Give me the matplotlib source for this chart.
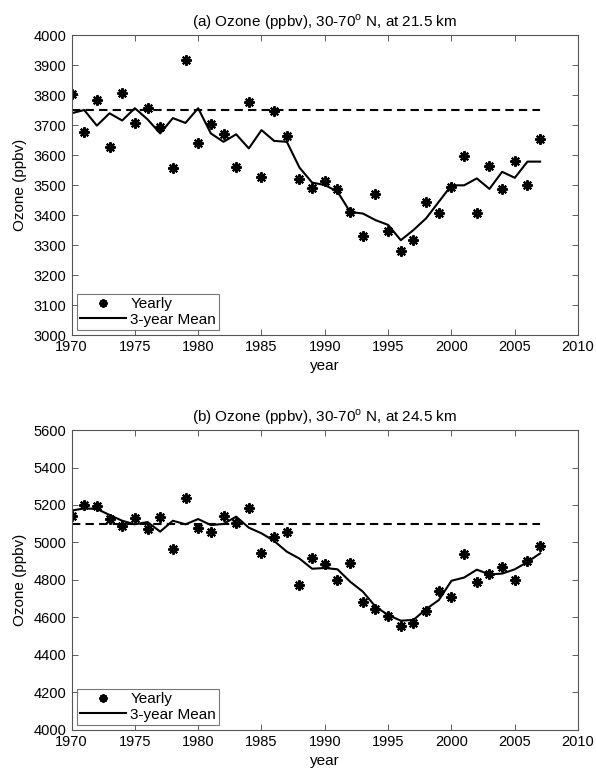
import matplotlib
matplotlib.use("Agg")
import matplotlib.pyplot as plt

plt.rcParams['font.family'] = ['Liberation Sans', 'DejaVu Sans']
plt.rcParams['mathtext.fontset'] = 'custom'
plt.rcParams['mathtext.rm'] = 'Liberation Sans'

years = list(range(1970, 2008))

# Panel (a): 21.5 km
yearly_a = [3802, 3678, 3782, 3627, 3807, 3707, 3758, 3694, 3557, 3918,
            3641, 3704, 3669, 3559, 3777, 3527, 3747, 3663, 3520, 3490,
            3513, 3487, 3410, 3330, 3470, 3348, 3279, 3317, 3444, 3407,
            3492, 3598, 3407, 3564, 3488, 3579, 3501, 3653]
mean_a = [3739, 3750, 3698, 3739, 3715, 3756, 3719, 3672, 3723, 3707,
          3756, 3672, 3644, 3669, 3622, 3683, 3647, 3644, 3558, 3508,
          3500, 3478, 3410, 3405, 3383, 3367, 3316, 3350, 3389, 3444,
          3499, 3499, 3522, 3487, 3544, 3524, 3578, 3578]
ref_a = 3750

# Panel (b): 24.5 km
yearly_b = [5141, 5200, 5195, 5124, 5088, 5129, 5070, 5134, 4967, 5239,
            5079, 5058, 5141, 5104, 5182, 4946, 5028, 5058, 4773, 4917,
            4883, 4802, 4891, 4683, 4644, 4608, 4555, 4572, 4636, 4743,
            4708, 4939, 4791, 4834, 4871, 4800, 4903, 4983]
mean_b = [5170, 5182, 5179, 5147, 5116, 5097, 5109, 5058, 5116, 5097,
          5125, 5093, 5099, 5138, 5079, 5049, 5008, 4951, 4914, 4860,
          4864, 4857, 4791, 4738, 4658, 4613, 4583, 4587, 4645, 4693,
          4796, 4813, 4855, 4830, 4834, 4857, 4896, 4942]
ref_b = 5100

xticks = [1970, 1975, 1980, 1985, 1990, 1995, 2000, 2005, 2010]
yticks_a = list(range(3000, 4001, 100))
yticks_b = list(range(4000, 5601, 200))

titles = [r'(a) Ozone (ppbv), 30-70$^{\mathregular{o}}$ N, at 21.5 km',
          r'(b) Ozone (ppbv), 30-70$^{\mathregular{o}}$ N, at 24.5 km']

fig = plt.figure(figsize=(5.96, 7.68), dpi=100)
ax1 = fig.add_axes([0.120, 0.5638, 0.850, 0.3906])
ax2 = fig.add_axes([0.120, 0.0495, 0.850, 0.3906])

panels = [(ax1, yearly_a, mean_a, ref_a, yticks_a, titles[0]),
          (ax2, yearly_b, mean_b, ref_b, yticks_b, titles[1])]

for ax, yearly, mean, ref, yt, title in panels:
    ax.plot(years, yearly, linestyle='none', marker=(8, 2, 0), markersize=7.5,
            markeredgewidth=1.5, color='black', label='Yearly')
    ax.plot(years, mean, '-', color='black', linewidth=1.5, label='3-year Mean')
    ax.plot([years[0], years[-1]], [ref, ref], '--', color='black',
            linewidth=1.5, dashes=(4, 2.5))
    ax.set_xlim(1970, 2010)
    ax.set_ylim(yt[0], yt[-1])
    ax.set_xticks(xticks)
    ax.set_yticks(yt)
    ax.tick_params(direction='in', top=True, right=True, labelsize=10.5,
                   length=4, width=0.6, color='#444444')
    for s in ax.spines.values():
        s.set_color('#555555')
        s.set_linewidth(0.8)
    ax.set_title(title, fontsize=11, pad=6)
    ax.set_xlabel('year', fontsize=11, labelpad=4)
    ax.set_ylabel('Ozone (ppbv)', fontsize=11, labelpad=5)
    leg = ax.legend(loc='lower left', fontsize=11, frameon=True, fancybox=False,
                    edgecolor='#555555', borderaxespad=0.35, handlelength=3.0,
                    handletextpad=0.3, borderpad=0.2, labelspacing=0.1,
                    markerscale=0.8)
    leg.get_frame().set_linewidth(0.8)

fig.savefig('out.png', dpi=100)
